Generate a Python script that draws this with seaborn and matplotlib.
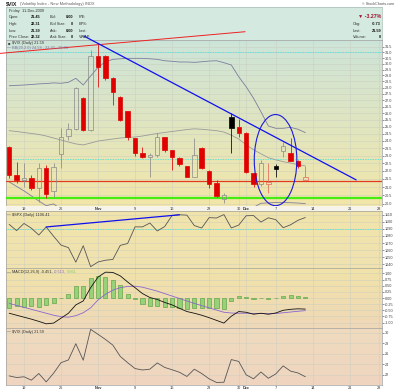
import numpy as np
import pandas as pd
import matplotlib
matplotlib.use("Agg")
import matplotlib.pyplot as plt
import seaborn as sns
from matplotlib.patches import Ellipse
from matplotlib.transforms import blended_transform_factory
from matplotlib.ticker import FixedLocator, FixedFormatter, NullLocator

sns.set_theme(style="white")
plt.rcParams['font.family'] = ['Liberation Sans', 'DejaVu Sans']

# ---------------- data ----------------
dates = ["2009-10-15", "2009-10-16", "2009-10-19", "2009-10-20", "2009-10-21", "2009-10-22", "2009-10-23",
         "2009-10-26", "2009-10-27", "2009-10-28", "2009-10-29", "2009-10-30",
         "2009-11-02", "2009-11-03", "2009-11-04", "2009-11-05", "2009-11-06",
         "2009-11-09", "2009-11-10", "2009-11-11", "2009-11-12", "2009-11-13",
         "2009-11-16", "2009-11-17", "2009-11-18", "2009-11-19", "2009-11-20",
         "2009-11-23", "2009-11-24", "2009-11-25", "2009-11-27",
         "2009-11-30", "2009-12-01", "2009-12-02", "2009-12-03", "2009-12-04",
         "2009-12-07", "2009-12-08", "2009-12-09", "2009-12-10", "2009-12-11"]
future_dates = ["2009-12-14", "2009-12-15", "2009-12-16", "2009-12-17", "2009-12-18",
                "2009-12-21", "2009-12-22", "2009-12-23", "2009-12-24", "2009-12-28"]

opens = [23.56, 21.75, 21.44, 21.58, 20.93, 22.21, 20.75, 23.09, 24.34, 24.82, 27.19, 24.77,
         30.70, 30.68, 28.81, 27.27, 26.19, 24.18, 23.16, 22.89, 23.05, 24.25, 23.38, 22.82,
         22.34, 21.64, 23.49, 22.00, 21.27, 20.27, 25.74, 24.96, 24.53, 21.89, 21.19, 21.19,
         22.34, 23.31, 23.16, 22.67, 21.45]
highs = [23.65, 22.60, 22.50, 21.75, 22.50, 22.39, 22.50, 24.89, 25.25, 28.07, 27.27, 31.21,
         31.85, 30.80, 28.85, 27.30, 26.20, 24.20, 23.56, 23.16, 24.53, 24.30, 23.40, 22.93,
         22.35, 24.18, 23.55, 22.07, 21.44, 20.63, 26.00, 25.55, 24.60, 21.90, 22.72, 22.50,
         22.45, 23.95, 24.18, 22.70, 22.31]
lows = [21.56, 21.23, 21.03, 20.83, 20.13, 20.35, 20.43, 22.17, 24.06, 24.77, 24.72, 24.72,
        28.07, 28.62, 26.62, 25.40, 24.06, 23.00, 22.85, 21.64, 22.93, 23.26, 22.07, 22.31,
        21.60, 21.60, 22.15, 20.93, 20.41, 20.04, 23.16, 24.29, 21.90, 21.01, 21.07, 20.63,
        21.64, 22.89, 22.67, 22.16, 21.39]
closes = [21.75, 21.44, 21.58, 20.93, 22.21, 20.59, 22.27, 24.29, 24.82, 27.94, 24.77, 30.70,
          29.74, 28.76, 27.67, 25.50, 24.29, 23.16, 22.89, 23.04, 24.25, 23.38, 22.93, 22.45,
          21.64, 23.04, 22.21, 21.19, 20.49, 20.53, 24.89, 24.53, 21.96, 21.19, 22.50, 21.29,
          22.13, 23.67, 22.67, 22.32, 21.59]

bb_upper = [28.15, 28.18, 28.21, 28.25, 28.30, 28.33, 28.38, 28.35, 28.43, 28.76, 28.21, 28.95,
            29.69, 30.17, 30.38, 30.43, 30.47, 30.47, 30.47, 30.43, 30.38, 30.26, 30.21, 30.15,
            30.15, 30.12, 30.17, 30.23, 30.26, 30.09, 29.89, 28.89, 28.07, 27.15, 26.11, 25.06,
            24.89, 24.89, 24.96, 24.82, 24.58]
bb_mid = [24.72, 24.66, 24.59, 24.52, 24.45, 24.34, 24.20, 24.06, 23.92, 23.79, 23.72, 23.85,
          23.99, 24.06, 24.13, 24.20, 24.24, 24.27, 24.34, 24.43, 24.52, 24.59, 24.66, 24.73,
          24.80, 24.85, 24.82, 24.77, 24.72, 24.62, 24.40, 24.13, 23.73, 23.39, 23.12, 22.86,
          22.72, 22.60, 22.51, 22.41, 22.32]
bb_lower = [21.31, 21.04, 20.77, 20.47, 20.17, 19.90, 20.00, 19.70, 19.40, 18.80, 19.20, 18.80,
            18.30, 17.90, 17.90, 18.00, 18.00, 18.10, 18.20, 18.40, 18.70, 18.90, 19.10, 19.30,
            19.50, 19.60, 19.50, 19.30, 19.20, 19.20, 18.90, 19.40, 19.40, 19.80, 20.04, 20.06,
            20.08, 20.08, 20.07, 20.05, 20.02]

spx = [1096.6, 1087.7, 1097.9, 1091.1, 1081.4, 1092.9, 1079.6, 1067.0, 1063.4, 1042.6, 1066.1,
       1036.2, 1042.9, 1045.4, 1046.5, 1066.6, 1069.3, 1093.1, 1093.0, 1098.5, 1087.2, 1093.5,
       1109.3, 1110.3, 1109.8, 1094.9, 1091.4, 1106.2, 1105.7, 1110.6, 1091.5, 1095.6, 1108.9,
       1109.2, 1099.9, 1106.0, 1103.3, 1091.9, 1096.0, 1102.4, 1106.4]

macd = [-0.62, -0.70, -0.78, -0.86, -0.95, -1.05, -1.02, -0.82, -0.62, -0.28, -0.12, 0.42,
        0.85, 1.05, 1.04, 0.90, 0.65, 0.42, 0.18, 0.02, -0.06, -0.18, -0.28, -0.42, -0.55,
        -0.62, -0.70, -0.80, -0.91, -1.02, -0.74, -0.55, -0.58, -0.66, -0.62, -0.66, -0.61,
        -0.50, -0.46, -0.44, -0.451]
macd_signal = [-0.22, -0.30, -0.38, -0.46, -0.54, -0.62, -0.70, -0.76, -0.78, -0.72, -0.60,
               -0.40, -0.08, 0.15, 0.32, 0.42, 0.47, 0.48, 0.44, 0.36, 0.28, 0.18, 0.08, -0.02,
               -0.12, -0.22, -0.31, -0.40, -0.49, -0.58, -0.61, -0.62, -0.62, -0.63, -0.63,
               -0.64, -0.63, -0.60, -0.57, -0.54, -0.513]
macd_hist = [-0.39, -0.33, -0.35, -0.33, -0.35, -0.30, -0.22, 0.02, 0.18, 0.47, 0.47, 0.80,
             0.91, 0.84, 0.75, 0.53, 0.18, -0.05, -0.25, -0.33, -0.33, -0.36, -0.36, -0.40,
             -0.43, -0.40, -0.40, -0.40, -0.42, -0.45, -0.14, 0.07, 0.04, -0.03, 0.01, -0.03,
             0.02, 0.10, 0.11, 0.09, 0.061]

tick_dates = ["2009-10-19", "2009-10-26", "2009-11-02", "2009-11-09", "2009-11-16", "2009-11-23",
              "2009-11-30", "2009-12-01", "2009-12-07", "2009-12-14", "2009-12-21", "2009-12-28"]
tick_labels = ["19", "26", "Nov", "9", "16", "23", "30", "Dec", "7", "14", "21", "28"]

# annotation levels / trend lines (date index, value)
red_level = 21.36
green_level = 20.33
cyan_levels = [31.05, 22.8]
spx_cyan = 1090
red_trend = ([-1.24, 31.86], [30.91, 32.91])
blue_trend = ([10.1, 46.86], [32.5, 21.44])
spx_trend = ([5, 23], [1092.9, 1110.3])
ellipse_box = ([33.1, 38.85], [19.9, 25.9])

# ---------------- layout ----------------
all_dates = dates + future_dates
xs = np.arange(len(dates))
tick_pos = [all_dates.index(d) for d in tick_dates]
XLIM = (-0.43, 50.35)

W, H = 400, 392
fig = plt.figure(figsize=(W / 100, H / 100), dpi=100)
fig.patch.set_facecolor("white")
renderer = fig.canvas.get_renderer()

FS = 2.8


def rect(x0, y0, x1, y1):
    return [x0 / W, 1 - y1 / H, (x1 - x0) / W, (y1 - y0) / H]


def ftxt(x, y, s, **kw):
    kw.setdefault("va", "center")
    kw.setdefault("fontsize", FS)
    kw.setdefault("color", "#303030")
    return fig.text(x / W, 1 - y / H, s, **kw)


def ftxt_run(x, y, parts):
    """Place colored text pieces one after another."""
    for s, col in parts:
        t = ftxt(x, y, s, color=col)
        bb = t.get_window_extent(renderer=renderer)
        x = bb.x1 + 1.2


def gradient(ax, top, bottom):
    t = np.linspace(0, 1, 128)[:, None, None]
    top = np.array(top)[None, None, :] / 255
    bottom = np.array(bottom)[None, None, :] / 255
    img = top * (1 - t) + bottom * t
    ax.imshow(img, extent=[0, 1, 0, 1], transform=ax.transAxes, aspect="auto",
              zorder=-10, interpolation="bilinear")


def style(ax):
    for s in ax.spines.values():
        s.set_color("#a0a0a0")
        s.set_linewidth(0.5)
    ax.yaxis.tick_right()
    ax.tick_params(axis="y", labelsize=2.7, length=1.2, width=0.4, pad=1, colors="#404040")
    ax.set_xticks(tick_pos)
    ax.tick_params(axis="x", length=0, labelbottom=False)
    ax.grid(True, color="#c9cdbf", lw=0.4, alpha=0.8)
    ax.set_axisbelow(True)
    ax.yaxis.set_minor_locator(NullLocator())


# header box
ax_hdr = fig.add_axes(rect(6, 7, 382, 40))
ax_hdr.set_facecolor("#d4e9df")
ax_hdr.set_xticks([]); ax_hdr.set_yticks([])
for s in ax_hdr.spines.values():
    s.set_color("#a8bdb3"); s.set_linewidth(0.5)

ax_main = fig.add_axes(rect(6, 40, 382, 206))
ax_band = fig.add_axes(rect(6, 206, 382, 211))
ax_spx = fig.add_axes(rect(6, 211, 382, 268))
ax_macd = fig.add_axes(rect(6, 268, 382, 328))
ax_vix = fig.add_axes(rect(6, 328, 382, 385))

# ---------------- main price panel ----------------
ax = ax_main
gradient(ax, (204, 228, 217), (243, 230, 168))
ax.set_yscale("log")
style(ax)
mticks = np.arange(20.0, 31.51, 0.5)
ax.yaxis.set_major_locator(FixedLocator(mticks))
ax.yaxis.set_major_formatter(FixedFormatter([f"{v:.1f}" for v in mticks]))

sns.lineplot(x=xs, y=bb_upper, ax=ax, color="#7d7d9e", lw=0.6, zorder=2)
sns.lineplot(x=xs, y=bb_mid, ax=ax, color="#9a9a9a", lw=0.6, zorder=2)
sns.lineplot(x=xs, y=bb_lower, ax=ax, color="#7d7d9e", lw=0.6, zorder=2)

ax.axhline(red_level, color="#e03a20", lw=0.9, zorder=3)
ax.axhline(green_level, color="#44ee11", lw=1.6, zorder=3)
for lv in cyan_levels:
    ax.axhline(lv, color="#3fdede", lw=0.6, ls=(0, (1, 1)), zorder=3)

prev = [opens[0]] + closes[:-1]
for i in xs:
    o, h, l, c = opens[i], highs[i], lows[i], closes[i]
    down_day = c < prev[i]
    filled = c < o
    if down_day:
        col = "#e00000" if filled else "#e06a5a"
    else:
        col = "#000000" if filled else "#8a8a8a"
    top, bot = max(o, c), min(o, c)
    ax.vlines(i, top, h, color=col, lw=0.55, zorder=4)
    ax.vlines(i, l, bot, color=col, lw=0.55, zorder=4)
    ax.bar(i, top - bot if top - bot > 0.04 else 0.04, bottom=bot, width=0.6,
           facecolor=col if filled else "none", edgecolor=col, lw=0.5, zorder=5)

ax.set_xlim(*XLIM)
ax.set_ylim(19.88, 32.13)

ax.plot(red_trend[0], red_trend[1], color="#ee2222", lw=0.7, zorder=6, clip_on=False)
ax.plot(blue_trend[0], blue_trend[1], color="#1010ee", lw=0.9, zorder=6, clip_on=False)

# ellipse from its data extent
to_ax = ax.transData + ax.transAxes.inverted()
(ex0, ey0), (ex1, ey1) = to_ax.transform([(ellipse_box[0][0], ellipse_box[1][0]),
                                          (ellipse_box[0][1], ellipse_box[1][1])])
ax.add_patch(Ellipse(((ex0 + ex1) / 2, (ey0 + ey1) / 2), ex1 - ex0, ey1 - ey0,
                     transform=ax.transAxes, fill=False, edgecolor="#1a1ae0", lw=0.8, zorder=7))

# ---------------- date band ----------------
ax_band.set_facecolor("#f5f3ea")
ax_band.set_xlim(*XLIM); ax_band.set_ylim(0, 1)
ax_band.set_xticks([]); ax_band.set_yticks([])
for s in ax_band.spines.values():
    s.set_visible(False)
bt = blended_transform_factory(ax_band.transData, ax_band.transAxes)
for p, lab in zip(tick_pos, tick_labels):
    ax_band.text(p, 0.45, lab, transform=bt, ha="center", va="center", fontsize=2.8,
                 color="#303030", fontweight="bold" if lab in ("Nov", "Dec") else "normal")

# ---------------- SPX panel ----------------
ax = ax_spx
gradient(ax, (241, 228, 170), (240, 226, 176))
style(ax)
sticks = np.arange(1040, 1111, 10)
ax.yaxis.set_major_locator(FixedLocator(sticks))
ax.yaxis.set_major_formatter(FixedFormatter([str(v) for v in sticks]))
ax.axhline(spx_cyan, color="#3fdede", lw=0.6, ls=(0, (1, 1)), zorder=2)
sns.lineplot(x=xs, y=spx, ax=ax, color="#555555", lw=0.6, zorder=3)
ax.plot(spx_trend[0], spx_trend[1], color="#1010ee", lw=0.9, zorder=4)
ax.set_xlim(*XLIM)
ax.set_ylim(1034.3, 1115.7)

# ---------------- MACD panel ----------------
ax = ax_macd
gradient(ax, (241, 227, 168), (239, 216, 184))
style(ax)
mt = np.arange(-1.0, 1.01, 0.25)
ax.yaxis.set_major_locator(FixedLocator(mt))
ax.yaxis.set_major_formatter(FixedFormatter([f"{v:.2f}" for v in mt]))
ax.bar(xs, macd_hist, width=0.55, color="#97d27a", edgecolor="#4f9a35", lw=0.4, zorder=2)
sns.lineplot(x=xs, y=macd_signal, ax=ax, color="#8a66d0", lw=0.6, zorder=3)
sns.lineplot(x=xs, y=macd, ax=ax, color="#111111", lw=0.6, zorder=4)
ax.set_xlim(*XLIM)
ax.set_ylim(-1.22, 1.22)

# ---------------- VIX line panel ----------------
ax = ax_vix
gradient(ax, (239, 219, 190), (239, 213, 192))
style(ax)
vt = [22, 24, 26, 28, 30]
ax.yaxis.set_major_locator(FixedLocator(vt))
ax.yaxis.set_major_formatter(FixedFormatter([str(v) for v in vt]))
sns.lineplot(x=xs, y=closes, ax=ax, color="#555555", lw=0.6, zorder=3)
ax.set_xlim(*XLIM)
ax.set_ylim(20.0, 30.96)
ax.set_xticks(tick_pos)
ax.set_xticklabels(tick_labels)
ax.tick_params(axis="x", labelbottom=True, labelsize=2.8, pad=1.0, colors="#303030")
for t in ax.get_xticklabels():
    if t.get_text() in ("Nov", "Dec"):
        t.set_fontweight("bold")

# ---------------- texts ----------------
ftxt(6, 4, "$VIX", fontsize=3.8, fontweight="bold", color="#202020")
ftxt(20.5, 4.3, "(Volatility Index - New Methodology) INDX", fontsize=2.9, color="#606060")
ftxt(394, 4.3, "\u00a9 StockCharts.com", fontsize=2.7, color="#505050", ha="right")

ftxt(9, 11, "Friday  11-Dec-2009", fontsize=2.8)
rows_y = [17.3, 24, 30.7, 37.3]
c1 = [("Open:", "21.45"), ("High:", "22.31"), ("Low:", "21.39"), ("Prev Close:", "22.32")]
c2 = [("Bid:", "0.00"), ("Bid Size:", "0"), ("Ask:", "0.00"), ("Ask Size:", "0")]
c3 = ["P/E:", "EPS:", "Last:", "VWAP:"]
for y, (a, b), (cc, d), e in zip(rows_y, c1, c2, c3):
    ftxt(9, y, a)
    ftxt(40, y, b, ha="right", fontweight="bold", color="#111111")
    ftxt(50, y, cc)
    ftxt(73, y, d, ha="right", fontweight="bold", color="#111111")
    ftxt(79, y, e)
ftxt(381, 16.7, "\u25bc -3.27%", ha="right", fontsize=3.8, fontweight="bold", color="#a0102a")
for y, (a, b) in zip(rows_y[1:], [("Chg:", "-0.73"), ("Last:", "21.59"), ("Volume:", "0")]):
    ftxt(353, y, a)
    ftxt(381, y, b, ha="right", fontweight="bold", color="#111111")

ftxt(7.5, 43.2, "\u25a0", color="#404040")
ftxt(11.5, 43.2, "$VIX (Daily) 21.59")
ftxt(7, 47.6, "\u2014", color="#6060a0")
ftxt(11.5, 47.6, "BB(20,2.0) 24.58 - 22.32 - 20.06", color="#7070a8")

ftxt(7, 214.8, "\u2014", color="#303030")
ftxt(11.5, 214.8, "$SPX (Daily) 1106.41")

ftxt(7, 272, "\u2014", color="#303030")
ftxt_run(11.5, 272, [("MACD(12,26,9) -0.451,", "#303030"), ("-0.513,", "#8a66d0"),
                     ("0.061", "#8ac870")])

ftxt(7, 331.8, "\u2014", color="#303030")
ftxt(11.5, 331.8, "$VIX (Daily) 21.59")

fig.savefig("out.png", dpi=100, facecolor="white")
